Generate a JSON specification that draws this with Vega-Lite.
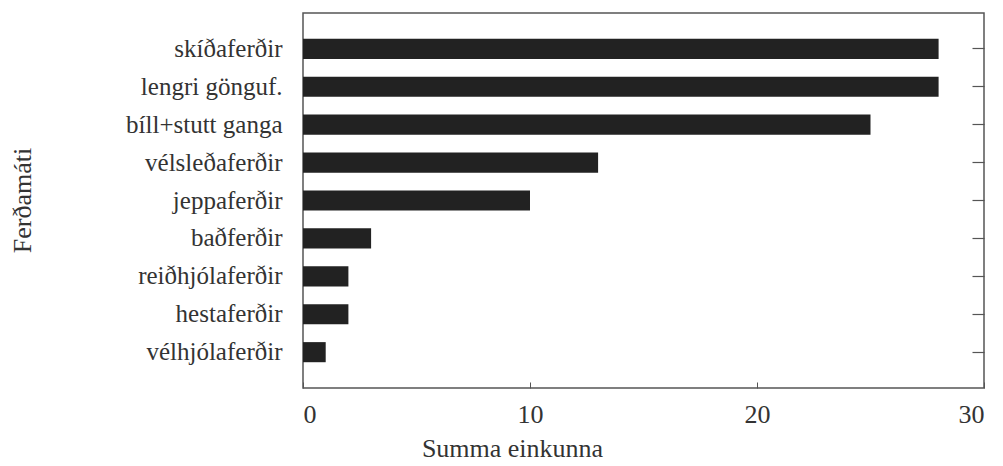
{
  "$schema": "https://vega.github.io/schema/vega-lite/v6.json",
  "autosize": "none",
  "width": 681,
  "height": 375,
  "padding": {"left": 303, "top": 13, "right": 19, "bottom": 78},
  "background": "white",
  "config": {
    "view": {"stroke": "#555", "strokeWidth": 1.5},
    "font": "Liberation Serif"
  },
  "data": {
    "values": [
      {"ferdamati": "skíðaferðir", "summa": 28},
      {"ferdamati": "lengri gönguf.", "summa": 28},
      {"ferdamati": "bíll+stutt ganga", "summa": 25},
      {"ferdamati": "vélsleðaferðir", "summa": 13},
      {"ferdamati": "jeppaferðir", "summa": 10},
      {"ferdamati": "baðferðir", "summa": 3},
      {"ferdamati": "reiðhjólaferðir", "summa": 2},
      {"ferdamati": "hestaferðir", "summa": 2},
      {"ferdamati": "vélhjólaferðir", "summa": 1}
    ]
  },
  "resolve": {"axis": {"y": "independent"}},
  "layer": [
    {
      "mark": {"type": "bar", "color": "#222"},
      "encoding": {
        "y": {
          "field": "ferdamati", "type": "nominal", "sort": null,
          "scale": {"paddingInner": 0.47, "paddingOuter": 0.68},
          "axis": {
            "title": "Ferðamáti", "titleFont": "Liberation Serif", "titleFontSize": 26,
            "titleFontWeight": "normal", "titleColor": "#333",
            "titleX": -281, "titleY": 187, "titleAlign": "center", "titleBaseline": "middle", "titleAngle": -90,
            "labelFont": "Liberation Serif", "labelFontSize": 25, "labelColor": "#333",
            "labelPadding": 21, "ticks": false, "domain": false
          }
        },
        "x": {
          "field": "summa", "type": "quantitative",
          "scale": {"domain": [0, 30], "nice": false},
          "axis": {
            "title": "Summa einkunna", "titleFont": "Liberation Serif", "titleFontSize": 26,
            "titleFontWeight": "normal", "titleColor": "#333",
            "titleX": 209, "titleY": 60, "titleAlign": "center", "titleBaseline": "middle",
            "labelFont": "Liberation Serif", "labelFontSize": 26, "labelColor": "#333",
            "labelPadding": 19, "values": [0, 10, 20, 30], "tickSize": -6,
            "tickColor": "#555", "domain": false, "grid": false
          }
        }
      }
    },
    {
      "mark": {"type": "tick", "opacity": 0},
      "encoding": {
        "y": {
          "field": "ferdamati", "type": "nominal", "sort": null,
          "axis": {
            "orient": "right", "title": null, "labels": false, "domain": false,
            "tickSize": -12, "tickColor": "#555", "tickWidth": 1.2
          }
        },
        "x": {"field": "summa", "type": "quantitative"}
      }
    }
  ]
}
